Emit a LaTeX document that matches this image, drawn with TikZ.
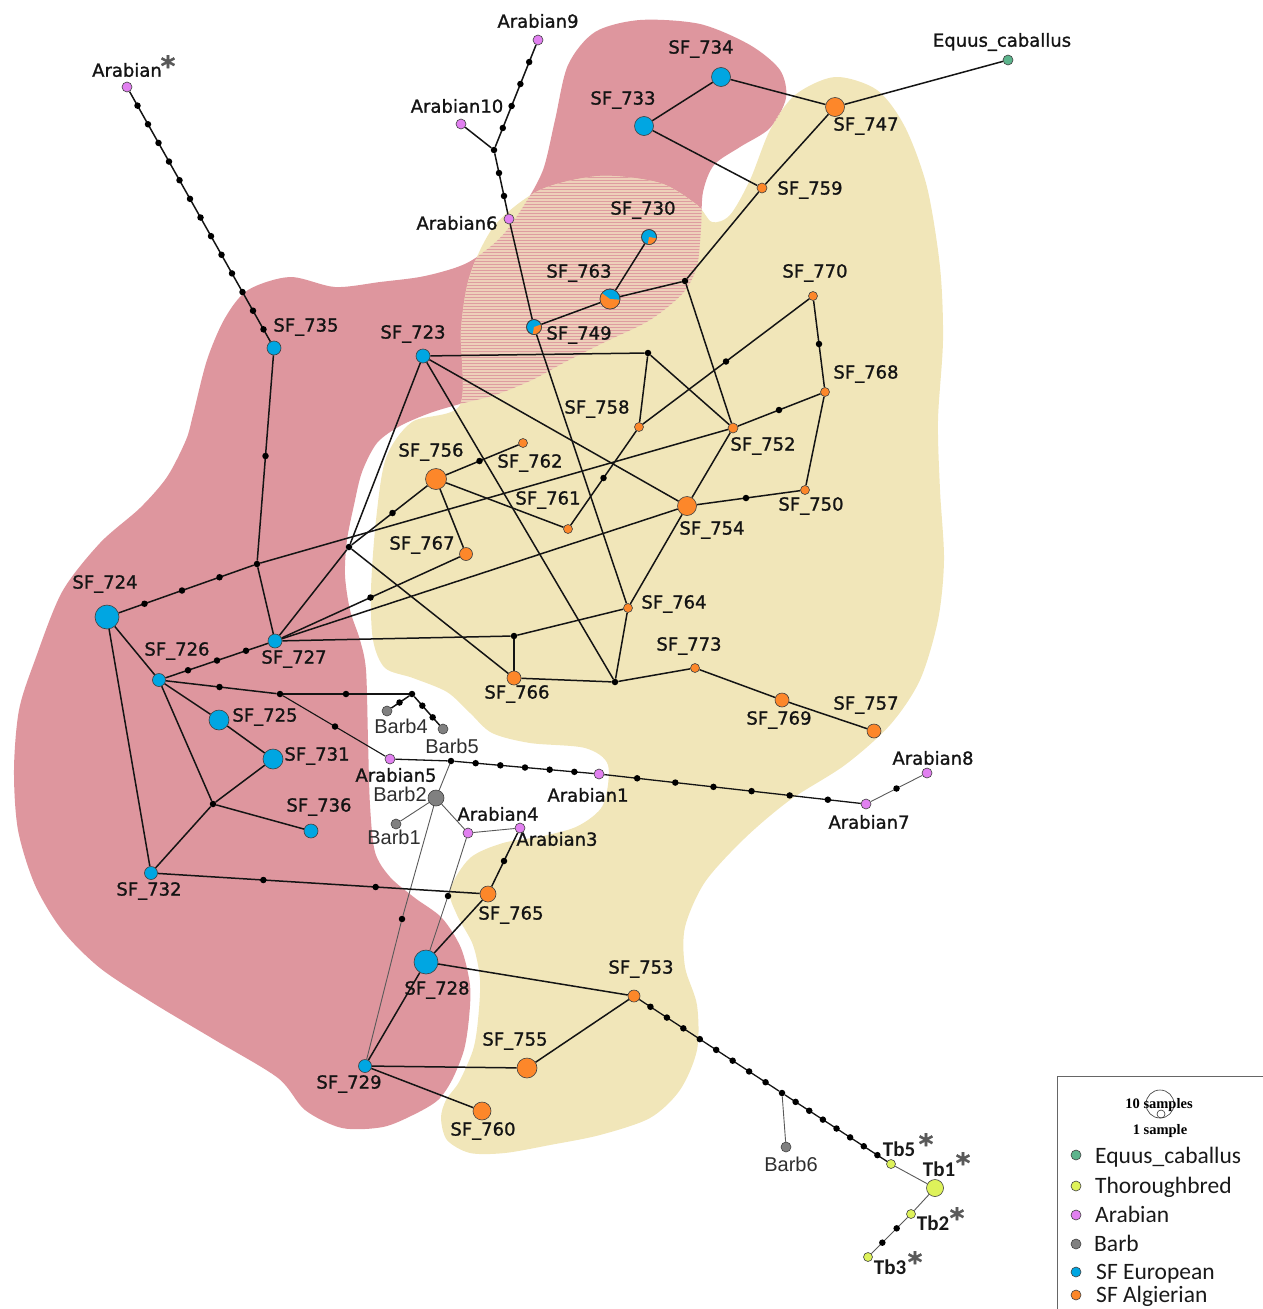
\documentclass[tikz,border=0pt]{standalone}
\usepackage{fontspec}
\usetikzlibrary{calc,patterns}
\newfontfamily\lblf[FakeBold=1.2]{DejaVu Sans}
\newfontfamily\barbf{Liberation Sans}
\newfontfamily\calf{Carlito}
\newfontfamily\serf{Liberation Serif}
\definecolor{pinkreg}{RGB}{222,150,158}
\definecolor{yelreg}{RGB}{241,230,185}
\definecolor{hatchbase}{RGB}{238,208,186}
\definecolor{hatchline}{RGB}{222,156,160}
\definecolor{sfeu}{RGB}{0,166,226}
\definecolor{sfal}{RGB}{253,135,42}
\definecolor{arab}{RGB}{225,128,240}
\definecolor{barbc}{RGB}{128,128,128}
\definecolor{equc}{RGB}{92,180,140}
\definecolor{tbc}{RGB}{222,242,90}
\pgfdeclarelayer{regions}
\pgfdeclarelayer{edges}
\pgfsetlayers{regions,edges,main}
\newcommand\pinkpath{plot[smooth cycle,tension=0.5] coordinates {(193,415) (207,360) (225,318) (248,290) (290,277) (335,287) (380,282) (425,276) (467,263) (500,238) (523,207) (543,170) (555,120) (568,65) (595,32) (640,20) (700,24) (750,45) (780,70) (786,98) (770,128) (740,147) (714,165) (703,192) (701,228) (697,266) (683,293) (650,320) (607,341) (567,361) (532,380) (495,395) (460,404) (430,413) (400,426) (377,443) (362,472) (354,505) (347,540) (345,575) (350,610) (360,640) (366,670) (368,740) (370,805) (375,852) (390,877) (415,898) (442,918) (461,948) (470,985) (469,1018) (464,1050) (452,1080) (438,1100) (415,1114) (383,1127) (342,1128) (305,1110) (278,1078) (215,1040) (153,1003) (100,968) (62,930) (35,885) (18,830) (14,770) (19,710) (35,660) (62,592) (100,543) (140,508) (167,477) (186,440)}}
\newcommand\yelpath{plot[smooth cycle,tension=0.5] coordinates {(460,405) (461,330) (470,275) (495,225) (540,190) (600,176) (660,183) (697,205) (712,222) (730,215) (750,180) (770,130) (795,95) (835,77) (877,90) (905,127) (927,187) (940,267) (943,340) (938,420) (940,490) (944,560) (938,620) (920,680) (890,725) (845,765) (790,800) (745,838) (705,882) (685,927) (685,967) (697,1005) (697,1050) (680,1090) (650,1118) (600,1135) (550,1145) (505,1153) (470,1153) (447,1140) (441,1118) (446,1100) (459,1082) (473,1050) (478,1020) (480,980) (473,945) (457,915) (450,890) (470,858) (503,843) (543,836) (578,826) (603,805) (608,765) (585,748) (530,743) (492,733) (470,713) (447,692) (413,678) (385,668) (373,640) (371,590) (376,520) (386,458) (412,422)}}
\newcommand\dotchain[4]{\foreach \k in {1,...,#3}{\pgfmathsetmacro\chainfrac{\k/(#3+1)}\node[mv] (#4\k) at ($(#1)!\chainfrac!(#2)$) {};}}
\begin{document}
\begin{tikzpicture}[x=1pt,y=-1pt,
  hap/.style={circle,draw=black!75,line width=0.6pt,inner sep=0pt,minimum size=#1},
  eu/.style={hap=#1,fill=sfeu},
  al/.style={hap=#1,fill=sfal},
  ar/.style={hap=#1,fill=arab},
  ba/.style={hap=#1,fill=barbc},
  mv/.style={circle,fill=black,inner sep=0pt,minimum size=6.5pt},
  lnk/.style={draw=black!92,line width=1.5pt},
  thn/.style={draw=black!65,line width=0.9pt},
  lbl/.style={inner sep=0pt,text=black!92,font=\lblf\fontsize{18}{20}\selectfont},
  blbl/.style={inner sep=0pt,text=black!82,font=\barbf\fontsize{20}{22}\selectfont},
  tblbl/.style={inner sep=0pt,text=black!90,font=\calf\bfseries\fontsize{21}{23}\selectfont},
  astk/.style={inner sep=0pt,anchor=north,text=black!65,font=\lblf\bfseries\fontsize{28}{28}\selectfont},
  lgt/.style={inner sep=0pt,anchor=base west,text=black!90,font=\calf\fontsize{23.5}{25}\selectfont},
  smp/.style={inner sep=0pt,text=black,font=\serf\bfseries\fontsize{14.5}{16}\selectfont}]
\useasboundingbox (0,0) rectangle (1263,1309);
% regions
\begin{pgfonlayer}{regions}
\fill[pinkreg] \pinkpath;
\fill[yelreg] \yelpath;
\begin{scope}
\clip (0,0) rectangle (1263,430);
\clip \pinkpath;
\fill[hatchbase] \yelpath;
\fill[pattern=horizontal lines,pattern color=hatchline] \yelpath;
\end{scope}
\end{pgfonlayer}
% haplotype nodes
\node[ar=10pt] (a0) at (127,87) {};
\node[ar=10pt] (a9) at (538,40) {};
\node[ar=10pt] (a10) at (461,124) {};
\node[ar=10pt] (a6) at (509,219) {};
\node[ar=10pt] (a5) at (390,759) {};
\node[ar=10pt] (a1) at (599,774) {};
\node[ar=10pt] (a7) at (866,804) {};
\node[ar=10pt] (a8) at (927,773) {};
\node[ar=10pt] (a4) at (468,833) {};
\node[ar=10pt] (a3) at (520,828) {};
\node[ba=10pt] (b1) at (396,824) {};
\node[ba=16pt] (b2) at (436,798) {};
\node[ba=10pt] (b4) at (387,711) {};
\node[ba=10pt] (b5) at (443,729) {};
\node[ba=10pt] (b6) at (786,1147) {};
\node[hap=10pt,fill=equc] (eq) at (1008,60) {};
\node[hap=9pt,fill=tbc] (t5) at (891,1164) {};
\node[hap=17pt,fill=tbc] (t1) at (935,1188) {};
\node[hap=9pt,fill=tbc] (t2) at (911,1214) {};
\node[hap=9pt,fill=tbc] (t3) at (868,1257) {};
\node[eu=14pt] (s723) at (423,356) {};
\node[eu=24pt] (s724) at (107,617) {};
\node[eu=20pt] (s725) at (219,720) {};
\node[eu=13pt] (s726) at (159,680) {};
\node[eu=14pt] (s727) at (275,641) {};
\node[eu=24pt] (s728) at (426,962) {};
\node[eu=13pt] (s729) at (365,1066) {};
\node[eu=20pt] (s731) at (273,759) {};
\node[eu=13pt] (s732) at (151,873) {};
\node[eu=19pt] (s733) at (644,126) {};
\node[eu=19pt] (s734) at (721,77) {};
\node[eu=14pt] (s735) at (274,348) {};
\node[eu=14pt] (s736) at (311,831) {};
\node[eu=15pt] (s730) at (649,237) {};
\node[eu=15pt] (s749) at (534,327) {};
\node[eu=20pt] (s763) at (610,299) {};
\node[al=19pt] (s747) at (835,107) {};
\node[al=9pt] (s750) at (805,490) {};
\node[al=10pt] (s752) at (733,428) {};
\node[al=12pt] (s753) at (634,996) {};
\node[al=19pt] (s754) at (687,506) {};
\node[al=20pt] (s755) at (527,1068) {};
\node[al=21pt] (s756) at (436,479) {};
\node[al=14pt] (s757) at (874,731) {};
\node[al=9pt] (s758) at (639,427) {};
\node[al=10pt] (s759) at (762,188) {};
\node[al=18pt] (s760) at (482,1111) {};
\node[al=9pt] (s761) at (568,529) {};
\node[al=9pt] (s762) at (523,443) {};
\node[al=9pt] (s764) at (628,608) {};
\node[al=16pt] (s765) at (488,894) {};
\node[al=14pt] (s766) at (514,678) {};
\node[al=13pt] (s767) at (466,554) {};
\node[al=9pt] (s768) at (825,392) {};
\node[al=14pt] (s769) at (782,700) {};
\node[al=9pt] (s770) at (813,296) {};
\node[al=9pt] (s773) at (695,668) {};
% pie wedges (orange parts)
\fill[sfal] (s730.center) -- ++(10:7.5) arc[start angle=10,end angle=100,radius=7.5] -- cycle;
\draw[black!75,line width=0.6pt] (s730.center) circle[radius=7.5];
\fill[sfal] (s749.center) -- ++(-20:7.5) arc[start angle=-20,end angle=100,radius=7.5] -- cycle;
\draw[black!75,line width=0.6pt] (s749.center) circle[radius=7.5];
\fill[sfal] (s763.center) -- ++(4:10) arc[start angle=4,end angle=216,radius=10] -- cycle;
\draw[black!75,line width=0.6pt] (s763.center) circle[radius=10];
% median vectors (junctions)
\node[mv] (j1) at (494,150) {};
\node[mv] (j2) at (685,281) {};
\node[mv] (j3) at (257,564) {};
\node[mv] (j4) at (213,804) {};
\node[mv] (j5) at (280,694) {};
\node[mv] (j6) at (412,694) {};
\node[mv] (j7) at (451,761) {};
\node[mv] (j8) at (402,919) {};
\node[mv] (j9) at (448,896) {};
\node[mv] (j10) at (782,1093) {};
\node[mv] (j11) at (648,353) {};
\node[mv] (j12) at (615,682) {};
\node[mv] (j13) at (349,547) {};
\node[mv] (j14) at (514,636) {};
% mutation dots along edges
\dotchain{a0}{s735}{13}{ca}
\dotchain{a9}{j1}{4}{cb}
\dotchain{j1}{a6}{2}{cc}
\dotchain{s735}{j3}{1}{cd}
\dotchain{s724}{j3}{3}{ce}
\dotchain{s726}{s727}{3}{cf}
\dotchain{s726}{j5}{1}{cg}
\dotchain{j5}{j6}{1}{ch}
\dotchain{j6}{b4}{1}{ci}
\dotchain{j6}{b5}{2}{cj}
\dotchain{j5}{a5}{1}{ck}
\dotchain{j7}{a1}{5}{cl}
\dotchain{a1}{a7}{6}{cm}
\dotchain{a7}{a8}{1}{cn}
\dotchain{s732}{s765}{2}{co}
\dotchain{s765}{a3}{1}{cp}
\dotchain{s753}{j10}{8}{cq}
\dotchain{j10}{t5}{7}{cr}
\dotchain{t2}{t3}{2}{cs}
\dotchain{j13}{s756}{1}{ct}
\dotchain{s727}{s767}{1}{cu}
\dotchain{s756}{s762}{1}{cv}
\dotchain{s761}{s758}{1}{cw}
\dotchain{s758}{s770}{1}{cx}
\dotchain{s770}{s768}{1}{cy}
\dotchain{s768}{s752}{1}{cz}
\dotchain{s750}{s754}{1}{da}
% edges
\begin{pgfonlayer}{edges}
\draw[lnk] (a0) -- (s735);
\draw[lnk] (a9) -- (j1);
\draw[lnk] (a10) -- (j1);
\draw[lnk] (j1) -- (a6);
\draw[lnk] (a6) -- (s749);
\draw[lnk] (s749) -- (s763);
\draw[lnk] (s763) -- (s730);
\draw[lnk] (s763) -- (j2);
\draw[lnk] (j2) -- (s759);
\draw[lnk] (j2) -- (s752);
\draw[lnk] (s759) -- (s747);
\draw[lnk] (s759) -- (s733);
\draw[lnk] (s733) -- (s734);
\draw[lnk] (s734) -- (s747);
\draw[lnk] (s747) -- (eq);
\draw[lnk] (s749) -- (s764);
\draw[lnk] (s735) -- (j3);
\draw[lnk] (s724) -- (j3);
\draw[lnk] (j3) -- (s752);
\draw[lnk] (j3) -- (s727);
\draw[lnk] (s724) -- (s726);
\draw[lnk] (s724) -- (s732);
\draw[lnk] (s726) -- (s727);
\draw[lnk] (s726) -- (s725);
\draw[lnk] (s725) -- (s731);
\draw[lnk] (s731) -- (j4);
\draw[lnk] (j4) -- (s736);
\draw[lnk] (j4) -- (s732);
\draw[lnk] (s726) -- (j4);
\draw[lnk] (s726) -- (j5);
\draw[lnk] (j5) -- (j6);
\draw[lnk] (j6) -- (b4);
\draw[lnk] (j6) -- (b5);
\draw[lnk,line width=1.1pt] (j5) -- (a5);
\draw[lnk,line width=1.3pt] (a5) -- (j7);
\draw[lnk,line width=1.3pt] (j7) -- (a1);
\draw[lnk,line width=1.3pt] (a1) -- (a7);
\draw[thn] (a7) -- (a8);
\draw[thn] (b2) -- (j7);
\draw[thn] (b2) -- (b1);
\draw[thn] (b2) -- (a4);
\draw[thn] (a4) -- (a3);
\draw[thn] (b2) -- (j8);
\draw[thn] (j8) -- (s729);
\draw[thn] (a4) -- (j9);
\draw[thn] (j9) -- (s728);
\draw[thn] (j10) -- (b6);
\draw[thn] (t5) -- (t1);
\draw[thn] (t1) -- (t2);
\draw[thn] (t2) -- (t3);
\draw[lnk] (s732) -- (s765);
\draw[lnk] (s765) -- (a3);
\draw[lnk] (s765) -- (s728);
\draw[lnk] (s728) -- (s729);
\draw[lnk] (s728) -- (s753);
\draw[lnk] (s729) -- (s755);
\draw[lnk] (s729) -- (s760);
\draw[lnk] (s753) -- (s755);
\draw[lnk,line width=1.3pt] (s753) -- (j10);
\draw[lnk,line width=1.3pt] (j10) -- (t5);
\draw[lnk] (s723) -- (j11);
\draw[lnk] (j11) -- (s758);
\draw[lnk] (j11) -- (s752);
\draw[lnk] (s723) -- (s754);
\draw[lnk] (s723) -- (j12);
\draw[lnk] (s723) -- (j13);
\draw[lnk] (j13) -- (s727);
\draw[lnk] (j13) -- (s756);
\draw[lnk] (j13) -- (s766);
\draw[lnk] (s727) -- (s767);
\draw[lnk] (s727) -- (s754);
\draw[lnk] (s727) -- (j14);
\draw[lnk] (j14) -- (s764);
\draw[lnk] (j14) -- (s766);
\draw[lnk] (s766) -- (j12);
\draw[lnk] (j12) -- (s773);
\draw[lnk] (j12) -- (s764);
\draw[lnk] (s773) -- (s769);
\draw[lnk] (s769) -- (s757);
\draw[lnk] (s756) -- (s762);
\draw[lnk] (s756) -- (s767);
\draw[lnk] (s756) -- (s761);
\draw[lnk] (s761) -- (s758);
\draw[lnk] (s758) -- (s770);
\draw[lnk] (s770) -- (s768);
\draw[lnk] (s768) -- (s752);
\draw[lnk] (s768) -- (s750);
\draw[lnk] (s750) -- (s754);
\draw[lnk] (s752) -- (s754);
\draw[lnk] (s764) -- (s754);
\end{pgfonlayer}
% labels
\node[lbl] (la0) at (127,70) {Arabian};
\node[astk] (st0) at (168,55) {*};
\node[lbl] (la9) at (538,21) {Arabian9};
\node[lbl] (la10) at (457,106) {Arabian10};
\node[lbl] (la6) at (457,223) {Arabian6};
\node[lbl] (l734) at (701,49) {SF\_734};
\node[lbl] (l733) at (623,100) {SF\_733};
\node[lbl] (l747) at (866,126) {SF\_747};
\node[lbl] (leq) at (1002,42) {Equus\_caballus};
\node[lbl] (l759) at (810,190) {SF\_759};
\node[lbl] (l730) at (643,210) {SF\_730};
\node[lbl] (l770) at (815,273) {SF\_770};
\node[lbl] (l763) at (579,273) {SF\_763};
\node[lbl] (l749) at (579,335) {SF\_749};
\node[lbl] (l735) at (306,327) {SF\_735};
\node[lbl] (l723) at (413,334) {SF\_723};
\node[lbl] (l768) at (866,374) {SF\_768};
\node[lbl] (l758) at (597,409) {SF\_758};
\node[lbl] (l752) at (763,446) {SF\_752};
\node[lbl] (l756) at (431,452) {SF\_756};
\node[lbl] (l762) at (530,463) {SF\_762};
\node[lbl] (l761) at (548,500) {SF\_761};
\node[lbl] (l750) at (811,506) {SF\_750};
\node[lbl] (l754) at (712,530) {SF\_754};
\node[lbl] (l767) at (422,545) {SF\_767};
\node[lbl] (l724) at (105,584) {SF\_724};
\node[lbl] (l764) at (674,604) {SF\_764};
\node[lbl] (l773) at (689,646) {SF\_773};
\node[lbl] (l726) at (177,651) {SF\_726};
\node[lbl] (l727) at (294,659) {SF\_727};
\node[lbl] (l766) at (517,694) {SF\_766};
\node[lbl] (l757) at (866,705) {SF\_757};
\node[lbl] (l725) at (265,717) {SF\_725};
\node[lbl] (l769) at (779,720) {SF\_769};
\node[lbl] (l731) at (317,756) {SF\_731};
\node[lbl] (l736) at (319,807) {SF\_736};
\node[lbl] (l732) at (149,891) {SF\_732};
\node[lbl] (l765) at (511,915) {SF\_765};
\node[lbl] (l753) at (641,969) {SF\_753};
\node[lbl] (l728) at (437,990) {SF\_728};
\node[lbl] (l755) at (515,1041) {SF\_755};
\node[lbl] (l729) at (349,1084) {SF\_729};
\node[lbl] (l760) at (483,1131) {SF\_760};
\node[lbl] (la5) at (396,775) {Arabian5};
\node[lbl] (la1) at (588,795) {Arabian1};
\node[lbl] (la8) at (933,758) {Arabian8};
\node[lbl] (la4) at (498,814) {Arabian4};
\node[lbl] (la7) at (869,822) {Arabian7};
\node[lbl] (la3) at (557,839) {Arabian3};
\node[blbl] (lb4) at (401,726) {Barb4};
\node[blbl] (lb5) at (452,746) {Barb5};
\node[blbl] (lb2) at (400,794) {Barb2};
\node[blbl] (lb1) at (394,837) {Barb1};
\node[blbl] (lb6) at (791,1164) {Barb6};
\node[tblbl] (lt5) at (899,1149) {Tb5};
\node[astk] (st5) at (926,1133) {*};
\node[tblbl] (lt1) at (939,1169) {Tb1};
\node[astk] (st1) at (963,1152) {*};
\node[tblbl] (lt2) at (933,1223) {Tb2};
\node[astk] (st2) at (957,1207) {*};
\node[tblbl] (lt3) at (890,1267) {Tb3};
\node[astk] (st3) at (915,1251) {*};
% legend
\draw[black!60,line width=0.8pt] (1057,1309) -- (1057,1076) -- (1263,1076);
\node[circle,draw=black!80,line width=0.6pt,inner sep=0pt,minimum size=28pt] (lgbig) at (1160,1104) {};
\node[circle,draw=black!80,line width=0.6pt,inner sep=0pt,minimum size=8pt] (lgsm) at (1161,1114) {};
\node[smp] (lg10) at (1159,1105) {10 samples};
\node[smp] (lg1s) at (1160,1131) {1 sample};
\node[hap=10pt,fill=equc] (lgd1) at (1076,1155) {};
\node[hap=10pt,fill=tbc] (lgd2) at (1076,1186) {};
\node[hap=10pt,fill=arab] (lgd3) at (1076,1215) {};
\node[hap=10pt,fill=barbc] (lgd4) at (1076,1244) {};
\node[hap=10pt,fill=sfeu] (lgd5) at (1076,1272) {};
\node[hap=10pt,fill=sfal] (lgd6) at (1076,1295) {};
\node[lgt] (lgt1) at (1095,1163) {Equus\_caballus};
\node[lgt] (lgt2) at (1095,1193.5) {Thoroughbred};
\node[lgt] (lgt3) at (1095,1222.5) {Arabian};
\node[lgt] (lgt4) at (1094,1251.5) {Barb};
\node[lgt] (lgt5) at (1096,1279.5) {SF European};
\node[lgt] (lgt6) at (1096,1302.5) {SF Algierian};
\end{tikzpicture}
\end{document}
